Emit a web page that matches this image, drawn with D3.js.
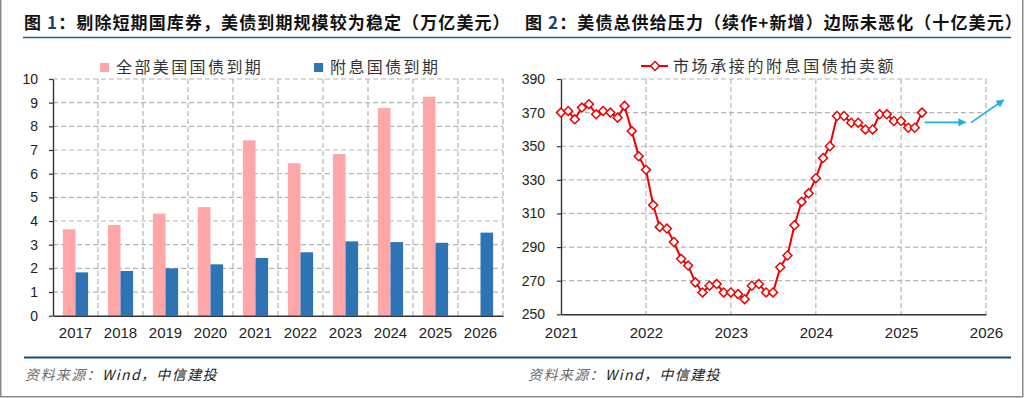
<!DOCTYPE html>
<html>
<head>
<meta charset="utf-8">
<script src="https://cdn.jsdelivr.net/npm/d3@7"></script>
<style>
  html, body { margin: 0; padding: 0; background: #fff; }
  svg { display: block; }
  .tick text { font-family: "Liberation Sans Narrow", "Arial Narrow", "Liberation Sans", Arial, sans-serif; fill: #222; }
</style>
</head>
<body>
<div id="chart"></div>
<script>
// Figure 1: treasury maturities (trillion USD)
const years = ['2017', '2018', '2019', '2020', '2021', '2022', '2023', '2024', '2025', '2026'];
const totalMaturity = [3.65, 3.83, 4.31, 4.59, 7.41, 6.44, 6.83, 8.77, 9.25, null];
const couponMaturity = [1.83, 1.89, 2.00, 2.17, 2.44, 2.68, 3.14, 3.11, 3.08, 3.51];
const leftTicks = [0, 1, 2, 3, 4, 5, 6, 7, 8, 9, 10];

// Figure 2: coupon auction size taken by market (billion USD)
const auctionMonths = [
  '2021-01', '2021-02', '2021-03', '2021-04', '2021-05', '2021-06', '2021-07', '2021-08', '2021-09', '2021-10', '2021-11', '2021-12',
  '2022-01', '2022-02', '2022-03', '2022-04', '2022-05', '2022-06', '2022-07', '2022-08', '2022-09', '2022-10', '2022-11', '2022-12',
  '2023-01', '2023-02', '2023-03', '2023-04', '2023-05', '2023-06', '2023-07', '2023-08', '2023-09', '2023-10', '2023-11', '2023-12',
  '2024-01', '2024-02', '2024-03', '2024-04', '2024-05', '2024-06', '2024-07', '2024-08', '2024-09', '2024-10', '2024-11', '2024-12',
  '2025-01', '2025-02', '2025-03', '2025-04'
];
const auctionValues = [
  370, 371, 366, 373, 375, 369, 371, 370, 367, 374, 359, 344,
  336, 315, 302, 301, 293, 283, 279, 269, 263, 267, 268, 263,
  263, 262, 259, 267, 268, 263, 263, 278, 285, 303, 317, 322,
  331, 343, 350, 368, 368, 364, 364, 360, 360, 369, 369, 365,
  365, 361, 361, 370
];
const rightTicks = [250, 270, 290, 310, 330, 350, 370, 390];
const rightYears = ['2021', '2022', '2023', '2024', '2025', '2026'];
// blue trend arrows (date, value)
const arrows = [
  { from: ['2025-04-12', 364.2], to: ['2025-10-05', 364.2] },
  { from: ['2025-10-28', 364], to: ['2026-03-18', 377.5] }
];

const W = 1024, H = 398;
const titleFont = '"Noto Sans CJK SC", "Noto Sans", sans-serif';
const parseMonth = d3.timeParse('%Y-%m');
const parseDay = d3.timeParse('%Y-%m-%d');

const svg = d3.select('#chart').append('svg')
  .attr('width', W)
  .attr('height', H);

// page frame (left, right, bottom)
svg.append('path')
  .attr('d', `M0.75,0 V${H - 1.25} H${W - 1.25} V0`)
  .attr('fill', 'none')
  .attr('stroke', '#8a8a8a')
  .attr('stroke-width', 1.5);

// titles
function title(x, num, rest) {
  const t = svg.append('text')
    .attr('x', x)
    .attr('y', 29)
    .attr('font-family', titleFont)
    .attr('font-weight', 700)
    .attr('font-size', 17)
    .attr('letter-spacing', 1.1)
    .attr('fill', '#111');
  t.append('tspan').text('图 ');
  t.append('tspan').attr('fill', '#1f3f73').text(num);
  t.append('tspan').text(rest);
}
title(24, '1', '：剔除短期国库券，美债到期规模较为稳定（万亿美元）');
title(525, '2', '：美债总供给压力（续作+新增）边际未恶化（十亿美元）');

svg.append('line')
  .attr('x1', 23).attr('x2', 1011)
  .attr('y1', 37.5).attr('y2', 37.5)
  .attr('stroke', '#1f5d8c')
  .attr('stroke-width', 1.6);

// footer
svg.append('line')
  .attr('x1', 24).attr('x2', 1011)
  .attr('y1', 357.5).attr('y2', 357.5)
  .attr('stroke', '#0d4e7a')
  .attr('stroke-width', 2.2);

[25, 528].forEach(x => {
  const t = svg.append('text')
    .attr('x', x)
    .attr('y', 380)
    .attr('font-family', titleFont)
    .attr('font-style', 'italic')
    .attr('font-size', 14)
    .attr('letter-spacing', 1.4);
  t.append('tspan').attr('fill', '#6a6a6a').text('资料来源：');
  t.append('tspan').attr('fill', '#222').text('Wind，中信建投');
});

function dashedGrid(g, lines) {
  g.selectAll(null)
    .data(lines)
    .enter()
    .append('line')
    .attr('x1', d => d[0]).attr('y1', d => d[1])
    .attr('x2', d => d[2]).attr('y2', d => d[3])
    .attr('stroke', '#b4b4b4')
    .attr('stroke-width', 1.2)
    .attr('stroke-dasharray', '5,3');
}

function styleAxis(g) {
  g.select('.domain').attr('stroke', '#333').attr('stroke-width', 1.4);
  g.selectAll('.tick line').attr('stroke', '#333').attr('stroke-width', 1.2);
}

// ---------- left chart: grouped bars ----------
(function leftChart() {
  const left = 53, right = 503, top = 79, bottom = 315.7;

  const x = d3.scaleBand()
    .domain(years)
    .range([left, right]);

  const y = d3.scaleLinear()
    .domain([0, 10])
    .range([bottom, top]);

  const g = svg.append('g');

  // grid
  const vLines = years.map(d => x(d)).concat([right]).filter(v => v > left)
    .map(v => [v, top, v, bottom]);
  const hLines = leftTicks.filter(d => d > 0).map(d => [left, y(d), right, y(d)]);
  dashedGrid(g, vLines.concat(hLines));

  const barW = x.bandwidth() * 0.28;

  g.selectAll('.total-bar')
    .data(years.map((d, i) => ({ year: d, value: totalMaturity[i] })).filter(d => d.value != null))
    .enter()
    .append('rect')
    .attr('class', 'total-bar')
    .attr('x', d => x(d.year) + x.bandwidth() / 2 - barW)
    .attr('y', d => y(d.value))
    .attr('width', barW)
    .attr('height', d => bottom - y(d.value))
    .attr('fill', '#ffa6a9');

  g.selectAll('.coupon-bar')
    .data(years.map((d, i) => ({ year: d, value: couponMaturity[i] })))
    .enter()
    .append('rect')
    .attr('class', 'coupon-bar')
    .attr('x', d => x(d.year) + x.bandwidth() / 2)
    .attr('y', d => y(d.value))
    .attr('width', barW)
    .attr('height', d => bottom - y(d.value))
    .attr('fill', '#2e73b4');

  // axes
  const yAxis = g.append('g')
    .attr('transform', `translate(${left},0)`)
    .call(d3.axisLeft(y).tickValues(leftTicks).tickSize(4).tickSizeOuter(0).tickPadding(11));
  yAxis.selectAll('text').attr('font-size', 14);
  styleAxis(yAxis);

  const xAxis = g.append('g')
    .attr('transform', `translate(0,${bottom})`)
    .call(d3.axisBottom(x).tickSize(0).tickPadding(12));
  xAxis.selectAll('text').attr('font-size', 15);
  styleAxis(xAxis);

  // legend
  const legend = [
    { label: '全部美国国债到期', color: '#ffa6a9', x: 100 },
    { label: '附息国债到期', color: '#2e73b4', x: 314 }
  ];
  const lg = svg.append('g');
  lg.selectAll('rect')
    .data(legend)
    .enter()
    .append('rect')
    .attr('x', d => d.x)
    .attr('y', 63)
    .attr('width', 9)
    .attr('height', 9)
    .attr('fill', d => d.color);
  lg.selectAll('text')
    .data(legend)
    .enter()
    .append('text')
    .attr('x', d => d.x + 16)
    .attr('y', 73)
    .attr('font-family', titleFont)
    .attr('font-size', 16)
    .attr('letter-spacing', 2.4)
    .attr('fill', '#333')
    .text(d => d.label);
})();

// ---------- right chart: line with diamond markers ----------
(function rightChart() {
  const left = 561, right = 986, top = 79, bottom = 314.3;

  const x = d3.scaleTime()
    .domain([parseMonth('2021-01'), parseMonth('2026-01')])
    .range([left, right]);

  const y = d3.scaleLinear()
    .domain([250, 390])
    .range([bottom, top]);

  const g = svg.append('g');

  const yearDates = rightYears.map(d => d3.timeParse('%Y')(d));
  const vLines = yearDates.map(d => x(d)).filter(v => v > left + 1)
    .map(v => [v, top, v, bottom]);
  const hLines = rightTicks.filter(d => d > 250).map(d => [left, y(d), right, y(d)]);
  dashedGrid(g, vLines.concat(hLines));

  const yAxis = g.append('g')
    .attr('transform', `translate(${left},0)`)
    .call(d3.axisLeft(y).tickValues(rightTicks).tickSize(4).tickSizeOuter(0).tickPadding(12));
  yAxis.selectAll('text').attr('font-size', 14);
  styleAxis(yAxis);

  const xAxis = g.append('g')
    .attr('transform', `translate(0,${bottom})`)
    .call(d3.axisBottom(x).tickValues(yearDates).tickFormat(d3.timeFormat('%Y')).tickSize(0).tickSizeOuter(0).tickPadding(13));
  xAxis.selectAll('text').attr('font-size', 15);
  styleAxis(xAxis);

  const data = auctionMonths.map((m, i) => ({ date: parseMonth(m), value: auctionValues[i] }));

  const line = d3.line()
    .x(d => x(d.date))
    .y(d => y(d.value));

  g.append('path')
    .datum(data)
    .attr('fill', 'none')
    .attr('stroke', '#f00000')
    .attr('stroke-width', 2)
    .attr('d', line);

  const diamond = d3.symbol().type(d3.symbolSquare).size(40);
  g.selectAll('.marker')
    .data(data)
    .enter()
    .append('path')
    .attr('class', 'marker')
    .attr('transform', d => `translate(${x(d.date)},${y(d.value)}) rotate(45)`)
    .attr('d', diamond)
    .attr('fill', '#fff')
    .attr('stroke', '#f00000')
    .attr('stroke-width', 1.5);

  // arrows
  const defs = svg.append('defs');
  defs.append('marker')
    .attr('id', 'arrowhead')
    .attr('viewBox', '0 0 10 10')
    .attr('refX', 9)
    .attr('refY', 5)
    .attr('markerWidth', 5.5)
    .attr('markerHeight', 5)
    .attr('markerUnits', 'strokeWidth')
    .attr('orient', 'auto')
    .append('path')
    .attr('d', 'M0,0 L10,5 L0,10 z')
    .attr('fill', '#1fb0ea');

  g.selectAll('.arrow')
    .data(arrows)
    .enter()
    .append('line')
    .attr('class', 'arrow')
    .attr('x1', d => x(parseDay(d.from[0])))
    .attr('y1', d => y(d.from[1]))
    .attr('x2', d => x(parseDay(d.to[0])))
    .attr('y2', d => y(d.to[1]))
    .attr('stroke', '#1fb0ea')
    .attr('stroke-width', 1.6)
    .attr('marker-end', 'url(#arrowhead)');

  // legend
  const lg = svg.append('g');
  lg.append('line')
    .attr('x1', 641).attr('x2', 668)
    .attr('y1', 66).attr('y2', 66)
    .attr('stroke', '#f00000')
    .attr('stroke-width', 2);
  lg.append('path')
    .attr('transform', 'translate(655,66) rotate(45)')
    .attr('d', diamond)
    .attr('fill', '#fff')
    .attr('stroke', '#f00000')
    .attr('stroke-width', 1.5);
  lg.append('text')
    .attr('x', 673)
    .attr('y', 72)
    .attr('font-family', titleFont)
    .attr('font-size', 16)
    .attr('letter-spacing', 2.6)
    .attr('fill', '#333')
    .text('市场承接的附息国债拍卖额');
})();
</script>
</body>
</html>
